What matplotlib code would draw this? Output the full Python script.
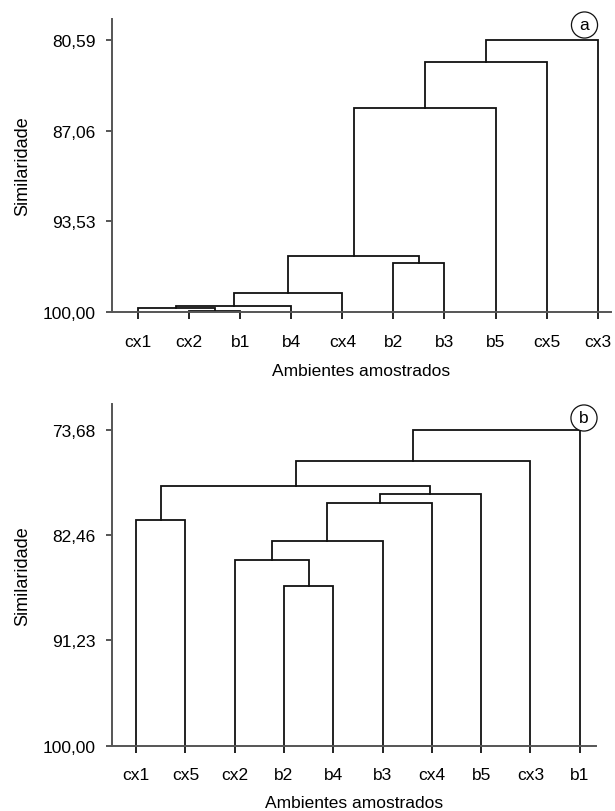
import matplotlib
matplotlib.use("Agg")
import matplotlib.pyplot as plt

plt.rcParams["font.family"] = ["Liberation Sans", "DejaVu Sans"]

# Panel (a)
leaves_a = ["cx1", "cx2", "b1", "b4", "cx4", "b2", "b3", "b5", "cx5", "cx3"]
# (left node, right node, similarity); nodes 0-9 are leaves, 10+ are merges
merges_a = [
    (1, 2, 99.90),
    (0, 10, 99.71),
    (11, 3, 99.55),
    (12, 4, 98.66),
    (5, 6, 96.50),
    (13, 14, 96.02),
    (15, 7, 85.46),
    (16, 8, 82.13),
    (17, 9, 80.59),
]
yticks_a = [80.59, 87.06, 93.53, 100.00]

# Panel (b)
leaves_b = ["cx1", "cx5", "cx2", "b2", "b4", "b3", "cx4", "b5", "cx3", "b1"]
merges_b = [
    (3, 4, 86.71),
    (2, 10, 84.52),
    (11, 5, 82.91),
    (12, 6, 79.77),
    (13, 7, 79.04),
    (0, 1, 81.19),
    (15, 14, 78.35),
    (16, 8, 76.29),
    (17, 9, 73.68),
]
yticks_b = [73.68, 82.46, 91.23, 100.00]

LINE = "#111111"
SPINE = "#555555"
W, H = 615, 812


def draw_dendrogram(ax, leaves, merges):
    xs = list(range(len(leaves)))
    hs = [100.0] * len(leaves)
    for left, right, sim in merges:
        x1, x2 = xs[left], xs[right]
        ax.plot([x1, x1, x2, x2], [hs[left], sim, sim, hs[right]],
                color=LINE, lw=1.3, solid_joinstyle="miter", clip_on=False)
        xs.append((x1 + x2) / 2)
        hs.append(sim)


def style_axes(ax, leaves, yticks, ylim, xlim):
    ax.set_ylim(*ylim)
    ax.set_xlim(*xlim)
    ax.set_yticks(yticks)
    ax.set_yticklabels([f"{v:.2f}".replace(".", ",") for v in yticks])
    ax.set_xticks(range(len(leaves)))
    ax.set_xticklabels(leaves)
    for s in ["top", "right"]:
        ax.spines[s].set_visible(False)
    for s in ["left", "bottom"]:
        ax.spines[s].set_color(SPINE)
        ax.spines[s].set_linewidth(1.4)
    ax.tick_params(axis="y", length=4.3, width=1.4, color=SPINE,
                   labelsize=12.5, pad=7.5)
    ax.tick_params(axis="x", length=5, width=1.3, color=LINE,
                   labelsize=12.5, pad=10.5)
    ax.set_ylabel("Similaridade", fontsize=13)
    ax.set_xlabel("Ambientes amostrados", fontsize=12.5)


fig = plt.figure(figsize=(W / 100, H / 100), dpi=100)

# top panel
ax1 = fig.add_axes([112 / W, 1 - 313 / H, (611 - 112) / W, (313 - 20) / H])
draw_dendrogram(ax1, leaves_a, merges_a)
style_axes(ax1, leaves_a, yticks_a, (100, 79.09), (-0.51, 9.26))
ax1.yaxis.set_label_coords((31 - 112) / (611 - 112), 0.5)
ax1.xaxis.set_label_coords(0.5, -(364 - 313) / (313 - 20))

# bottom panel
ax2 = fig.add_axes([112 / W, 1 - 746.7 / H, (596 - 112) / W, (746.7 - 405) / H])
draw_dendrogram(ax2, leaves_b, merges_b)
style_axes(ax2, leaves_b, yticks_b, (100, 71.52), (-0.49, 9.33))
ax2.yaxis.set_label_coords((31 - 112) / (596 - 112), 0.5)
ax2.xaxis.set_label_coords(0.5, -(796 - 746.7) / (746.7 - 405))

# panel letters in circles
circ = dict(boxstyle="circle,pad=0.32", fc="white", ec=LINE, lw=0.9)
fig.text(584.5 / W, 1 - 26 / H, "a", fontsize=12.5, ha="center", va="center",
         bbox=circ)
fig.text(584 / W, 1 - 419 / H, "b", fontsize=12.5, ha="center", va="center",
         bbox=circ)

fig.savefig("out.png", dpi=100)
